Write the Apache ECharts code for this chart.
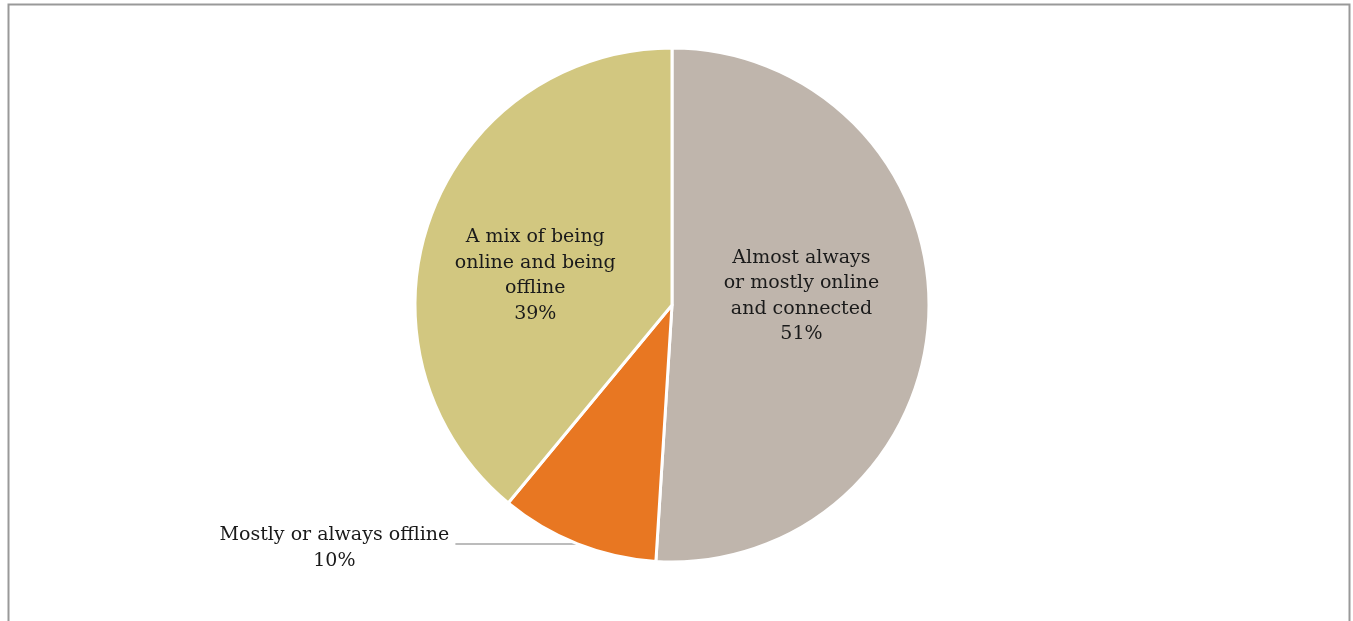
<!DOCTYPE html>
<html>
<head>
<meta charset="utf-8">
<script src="https://cdn.jsdelivr.net/npm/echarts@6/dist/echarts.min.js"></script>
<style>html,body{margin:0;padding:0;background:#fff;}#c{width:1353px;height:621px;}</style>
</head>
<body>
<div id="c"></div>
<script>
const categories = ["Almost always\nor mostly online\nand connected", "Mostly or always offline", "A mix of being\nonline and being\noffline"];
const values = [51, 10, 39];
const colors = ["#BFB5AC", "#E87722", "#D2C780"];

const chart = echarts.init(document.getElementById('c'));
const font = '"DejaVu Serif", serif';
const labelShift = [[-2, -13], [0, 4], [-13, 15]];
const data = categories.map((name, i) => {
  const d = { name: name, value: values[i], itemStyle: { color: colors[i] } };
  if (i === 1) {
    d.label = {
      position: 'outside',
      formatter: '{a|{b}}\n{a|{d}%}',
      rich: { a: { width: 232, align: 'center', fontFamily: font, fontSize: 19, lineHeight: 26, color: '#1a1a1a' } }
    };
    d.labelLine = { show: true, length: 0, length2: 122, lineStyle: { color: '#A6A6A6', width: 1.5 } };
  }
  return d;
});
chart.setOption({
  animation: false,
  graphic: [{
    type: 'polyline',
    shape: { points: [[8.5, 621], [8.5, 4.5], [1349.5, 4.5], [1349.5, 621]] },
    style: { stroke: '#999999', lineWidth: 2, fill: null }
  }],
  series: [{
    type: 'pie',
    center: [672, 305],
    radius: [0, 257],
    startAngle: 90,
    clockwise: true,
    avoidLabelOverlap: false,
    itemStyle: { borderColor: '#ffffff', borderWidth: 3 },
    label: {
      show: true,
      position: 'inside',
      formatter: '{b}\n{d}%',
      color: '#1a1a1a',
      fontFamily: font,
      fontSize: 19,
      lineHeight: 25.5,
      align: 'center'
    },
    labelLine: { show: false },
    labelLayout: function (p) {
      const s = labelShift[p.dataIndex];
      return { dx: s[0], dy: s[1] };
    },
    data: data
  }]
});
</script>
</body>
</html>
